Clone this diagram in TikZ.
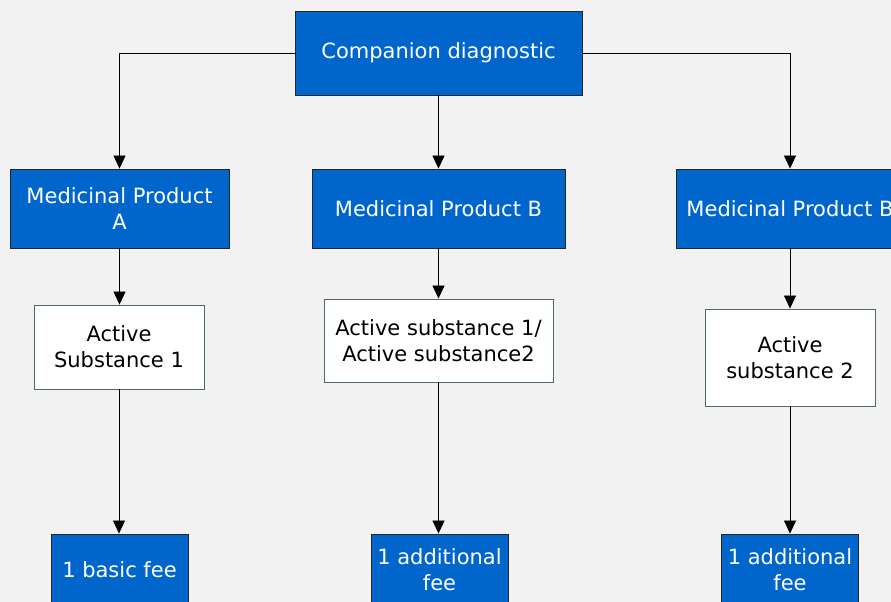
\documentclass[tikz,border=0pt]{standalone}
\usepackage{fontspec}
\setmainfont{DejaVu Sans}
\usetikzlibrary{arrows.meta}
\definecolor{boxblue}{HTML}{0066CC}
\definecolor{pagegray}{HTML}{F2F2F2}
\definecolor{subedge}{HTML}{4F6B5C}
\begin{document}
\begin{tikzpicture}[x=1pt, y=-1pt,
  every node/.style={font=\fontsize{21}{26}\selectfont, align=center, inner sep=0pt},
  bluebox/.style={draw=black!85, fill=boxblue, text=white, line width=0.9pt},
  whitebox/.style={draw=subedge, fill=white, text=black, line width=0.9pt},
  link/.style={draw=black, line width=0.8pt, -{Triangle[length=13pt,width=12pt]}}]
\useasboundingbox (0,0) rectangle (891,602);
\clip (0,0) rectangle (891,602);
\fill[pagegray] (0,0) rectangle (891,602);
\node[bluebox, minimum width=287pt, minimum height=84pt] (cdx) at (438.5,53) {Companion diagnostic};
\node[bluebox, minimum width=219pt, minimum height=79pt] (mpa) at (119.5,208.5) {Medicinal Product\\A};
\node[bluebox, minimum width=253pt, minimum height=79pt] (mpb) at (438.5,208.5) {Medicinal Product B};
\node[bluebox, minimum width=228pt, minimum height=79pt] (mpc) at (790,208.5) {Medicinal Product B};
\node[whitebox, minimum width=170pt, minimum height=84pt] (sa) at (119,347) {Active\\Substance 1};
\node[whitebox, minimum width=229pt, minimum height=83pt] (sb) at (438.5,340.5) {Active substance 1/\\Active substance2};
\node[whitebox, minimum width=170pt, minimum height=97pt] (sc) at (790,357.5) {Active\\substance 2};
\node[bluebox, minimum width=137pt, minimum height=72pt] (fa) at (119.5,570) {1 basic fee};
\node[bluebox, minimum width=137pt, minimum height=72pt] (fb) at (439.5,570) {1 additional\\fee};
\node[bluebox, minimum width=137pt, minimum height=72pt] (fc) at (790,570) {1 additional\\fee};
\draw[link] (cdx.west) -| (mpa.north);
\draw[link] (cdx.south) -- (mpb.north);
\draw[link] (cdx.east) -| (mpc.north);
\draw[link] (mpa.south) -- (mpa.south |- sa.north);
\draw[link] (mpb.south) -- (sb.north);
\draw[link] (mpc.south) -- (sc.north);
\draw[link] (sa.south) -- (sa.south |- fa.north);
\draw[link] (sb.south) -- (sb.south |- fb.north);
\draw[link] (sc.south) -- (fc.north);
\end{tikzpicture}
\end{document}
